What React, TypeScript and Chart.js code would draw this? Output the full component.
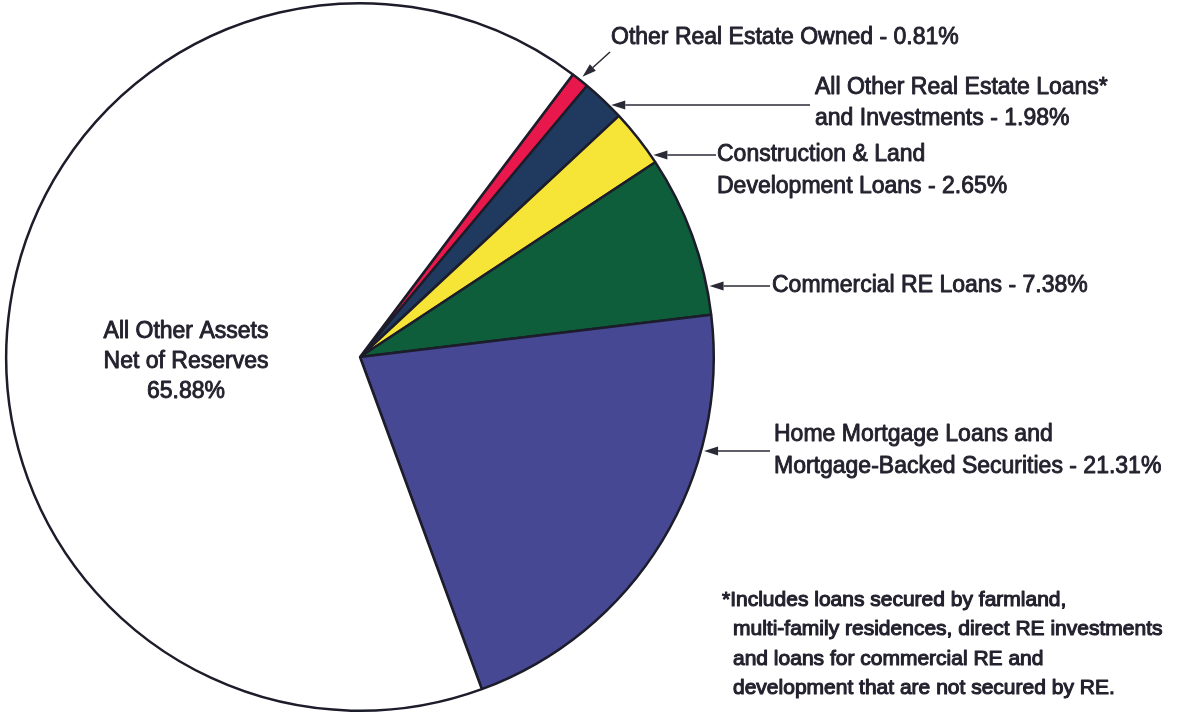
import React, { useEffect, useRef } from 'react';
import { Chart, registerables } from 'chart.js';

Chart.register(...registerables);

const categories = [
  'Other Real Estate Owned',
  'All Other Real Estate Loans and Investments',
  'Construction & Land Development Loans',
  'Commercial RE Loans',
  'Home Mortgage Loans and Mortgage-Backed Securities',
  'All Other Assets Net of Reserves',
];
const shares = [0.81, 1.98, 2.65, 7.38, 21.31, 65.88];
const sliceColors = ['#e8174c', '#1f3a5e', '#f6e536', '#0e5d3b', '#474894', '#ffffff'];

const labelLines: string[][] = [
  ['Other Real Estate Owned - 0.81%'],
  ['All Other Real Estate Loans*', 'and Investments - 1.98%'],
  ['Construction & Land', 'Development Loans - 2.65%'],
  ['Commercial RE Loans - 7.38%'],
  ['Home Mortgage Loans and', 'Mortgage-Backed Securities - 21.31%'],
  ['All Other Assets', 'Net of Reserves', '65.88%'],
];

const footnoteLines = [
  '*Includes loans secured by farmland,',
  'multi-family residences, direct RE investments',
  'and loans for commercial RE and',
  'development that are not secured by RE.',
];

const TEXT = '#23222e';
const FONT = '"Liberation Sans", Arial, Helvetica, sans-serif';

function drawText(ctx: CanvasRenderingContext2D, s: string, x: number, y: number, size: number, weight = 0.9) {
  ctx.font = `${size}px ${FONT}`;
  ctx.fillStyle = TEXT;
  ctx.strokeStyle = TEXT;
  ctx.lineWidth = weight;
  ctx.lineJoin = 'round';
  ctx.fillText(s, x, y);
  ctx.strokeText(s, x, y);
}

function drawArrow(ctx: CanvasRenderingContext2D, x1: number, y1: number, x2: number, y2: number) {
  const ang = Math.atan2(y2 - y1, x2 - x1);
  const len = 14;
  const hw = 4.5;
  const bx = x2 - len * Math.cos(ang);
  const by = y2 - len * Math.sin(ang);
  ctx.strokeStyle = '#2a2a36';
  ctx.fillStyle = '#2a2a36';
  ctx.lineWidth = 1.5;
  ctx.beginPath();
  ctx.moveTo(x1, y1);
  ctx.lineTo(bx, by);
  ctx.stroke();
  ctx.beginPath();
  ctx.moveTo(x2, y2);
  ctx.lineTo(bx - hw * Math.sin(ang), by + hw * Math.cos(ang));
  ctx.lineTo(bx + hw * Math.sin(ang), by - hw * Math.cos(ang));
  ctx.closePath();
  ctx.fill();
}

const annotationPlugin = {
  id: 'annotations',
  afterDraw(chart: any) {
    const ctx: CanvasRenderingContext2D = chart.ctx;
    const meta = chart.getDatasetMeta(0);
    const a0 = meta.data[0] as any;
    const cx = a0.x;
    const cy = a0.y;
    const R = a0.outerRadius;
    const edgeX = (y: number) => cx + Math.sqrt(Math.max(R * R - (y - cy) * (y - cy), 0)) + 3;

    ctx.save();
    ctx.textBaseline = 'middle';
    ctx.textAlign = 'left';

    const mid0 = (a0.startAngle + a0.endAngle) / 2;
    drawArrow(ctx, 610, 52, cx + (R + 4) * Math.cos(mid0), cy + (R + 4) * Math.sin(mid0));
    drawText(ctx, labelLines[0][0], 611, 38, 23);

    drawArrow(ctx, 810, 105, edgeX(105), 105);
    drawText(ctx, labelLines[1][0], 815, 88, 23);
    drawText(ctx, labelLines[1][1], 815, 119, 23);

    drawArrow(ctx, 716, 155, edgeX(155), 155);
    drawText(ctx, labelLines[2][0], 717, 155, 23);
    drawText(ctx, labelLines[2][1], 717, 187, 23);

    drawArrow(ctx, 770, 286, edgeX(286), 286);
    drawText(ctx, labelLines[3][0], 772, 286, 23);

    drawArrow(ctx, 770, 451, edgeX(451), 451);
    drawText(ctx, labelLines[4][0], 774, 435, 23);
    drawText(ctx, labelLines[4][1], 774, 467, 23);

    ctx.textAlign = 'center';
    drawText(ctx, labelLines[5][0], 186, 332, 23);
    drawText(ctx, labelLines[5][1], 186, 362, 23);
    drawText(ctx, labelLines[5][2], 186, 392, 23);

    ctx.textAlign = 'left';
    footnoteLines.forEach((s, i) => {
      drawText(ctx, s, i === 0 ? 722 : 733, 600 + i * 29.5, 21, 1.1);
    });
    ctx.restore();
  },
};

export default function App() {
  const ref = useRef<HTMLCanvasElement | null>(null);
  useEffect(() => {
    if (!ref.current) return;
    const chart = new Chart(ref.current, {
      type: 'pie',
      data: {
        labels: categories,
        datasets: [
          {
            data: shares,
            backgroundColor: sliceColors,
            borderColor: '#1c1c2a',
            borderWidth: 2.5,
            hoverOffset: 0,
            offset: 0,
          },
        ],
      },
      options: {
        responsive: false,
        animation: false,
        events: [],
        rotation: 37,
        layout: { padding: { left: 5, right: 464, top: 2, bottom: 3 } },
        plugins: {
          legend: { display: false },
          tooltip: { enabled: false },
        },
      },
      plugins: [annotationPlugin],
    });
    return () => chart.destroy();
  }, []);
  return (
    <div style={{ position: 'absolute', left: 0, top: 0, width: 1179, height: 715, background: '#ffffff', overflow: 'hidden' }}>
      <canvas ref={ref} width={1179} height={715} style={{ display: 'block', width: 1179, height: 715 }} />
    </div>
  );
}
